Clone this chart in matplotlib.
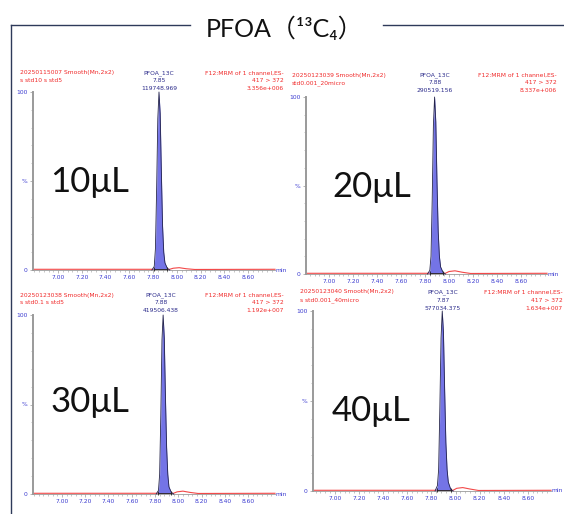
import matplotlib
matplotlib.use("Agg")
import matplotlib.pyplot as plt
from matplotlib.lines import Line2D
from matplotlib.ticker import MultipleLocator

W, H = 564, 514

# ---- data (time in min, intensity in %) ----
labels = ["10μL", "20μL", "30μL", "40μL"]
file_ids = ["20250115007 Smooth(Mn,2x2)", "20250123039 Smooth(Mn,2x2)",
            "20250123038 Smooth(Mn,2x2)", "20250123040 Smooth(Mn,2x2)"]
sample_ids = ["s std10 s std5", "std0.001_20micro", "s std0.1 s std5", "s std0.001_40micro"]
rt_labels = ["7.85", "7.88", "7.88", "7.87"]
areas = ["119748.969", "290519.156", "419506.438", "577034.375"]
max_counts = ["3.356e+006", "8.337e+006", "1.192e+007", "1.634e+007"]

tl_t = [7.79, 7.81, 7.82, 7.83, 7.84, 7.85, 7.86, 7.87, 7.88, 7.89, 7.90, 7.92, 7.94]
tl_i = [0, 2, 12, 45, 85, 100, 88, 55, 25, 10, 4, 1, 0]
tr_t = [7.82, 7.84, 7.85, 7.86, 7.87, 7.88, 7.89, 7.90, 7.91, 7.92, 7.93, 7.95, 7.97]
tr_i = [0, 2, 10, 42, 84, 100, 86, 52, 24, 10, 4, 1, 0]
bl_t = [7.81, 7.83, 7.84, 7.85, 7.86, 7.87, 7.88, 7.89, 7.90, 7.91, 7.92, 7.94, 7.96]
bl_i = [0, 2, 11, 44, 86, 100, 87, 54, 26, 11, 4, 1, 0]
br_t = [7.83, 7.85, 7.86, 7.87, 7.88, 7.89, 7.90, 7.91, 7.92, 7.93, 7.94, 7.96, 7.98]
br_i = [0, 3, 12, 46, 85, 100, 88, 56, 27, 12, 5, 1, 0]

# small hump of the raw trace after the peak
tail_t = [[7.97, 8.02, 8.08, 8.15], [8.00, 8.05, 8.11, 8.18],
          [7.99, 8.04, 8.10, 8.17], [8.01, 8.06, 8.12, 8.19]]
tail_i = [[1.0, 1.3, 0.7, 0.3], [1.4, 1.8, 1.0, 0.3],
          [1.2, 1.6, 0.9, 0.3], [1.5, 1.9, 1.1, 0.3]]

peaks_t = [tl_t, tr_t, bl_t, br_t]
peaks_i = [tl_i, tr_i, bl_i, br_i]

# ---- layout (pixels) ----
# x0, x1, y_top(100%), y_zero, xlim
panels = [
    (33, 275, 92, 270, (6.789, 8.827)),
    (306, 547, 97, 274, (6.808, 8.817)),
    (33, 275, 315, 494, (6.751, 8.832)),
    (313, 551, 311, 491, (6.818, 8.792)),
]
header_y = [(73, 80, 88), (75, 83, 91), (295, 303, 310), (292, 300, 308)]
header_x = [(20, 159, 284), (292, 435, 557), (20, 161, 284), (300, 443, 563)]
label_pos = [(50, 192), (332, 197), (50, 412), (332, 421)]

RED = "#F02828"
NAVY = "#2A2A8A"
TICKBLUE = "#3A3AD0"
FILL = "#7474E6"
GRAY = "#9A9A9A"


def fx(x):
    return x / W


def fy(y):
    return 1 - y / H


fig = plt.figure(figsize=(W / 100, H / 100), dpi=100)
fig.patch.set_facecolor("white")

# outer frame with title breaking the top border
frame_col = "#2E3A5A"
fig.add_artist(Line2D([fx(11), fx(11)], [fy(25), fy(520)], color=frame_col, lw=1.0))
fig.add_artist(Line2D([fx(11), fx(190)], [fy(25), fy(25)], color=frame_col, lw=1.0))
fig.add_artist(Line2D([fx(383), fx(570)], [fy(25), fy(25)], color=frame_col, lw=1.0))
fig.text(fx(285), fy(37), "PFOA（¹³C₄）", ha="center", va="baseline", fontsize=18,
         family=["Lato", "Noto Sans CJK SC", "DejaVu Sans"], color="#111111")

small = dict(fontsize=4.3, family="DejaVu Sans")

for k, (x0, x1, ytop, yzero, xlim) in enumerate(panels):
    ax = fig.add_axes([fx(x0), fy(yzero), (x1 - x0) / W, (yzero - ytop) / H])
    ax.set_xlim(*xlim)
    ax.set_ylim(0, 100)
    ax.patch.set_alpha(0)

    t = peaks_t[k]
    i = peaks_i[k]
    # raw trace (red): flat baseline plus the small tail after the peak
    trace_t = [xlim[0], t[0], t[-1]] + tail_t[k] + [xlim[1]]
    trace_i = [0.4, 0.4, 0.4] + tail_i[k] + [0.4]
    ax.plot(trace_t, trace_i, color=RED, lw=0.8, alpha=0.85, clip_on=False, zorder=2)
    # integrated peak
    ax.fill_between(t, 0.5, i, color=FILL, lw=0, zorder=3)
    ax.plot(t, i, color="#23234A", lw=0.6, zorder=4, clip_on=False)
    ax.plot([t[1], t[-2]], [0.8, 0.8], color="#222222", lw=0.6, zorder=4,
            marker="|", markersize=3, markeredgewidth=0.6, clip_on=False)

    for s in ("top", "right"):
        ax.spines[s].set_visible(False)
    ax.spines["left"].set_color(GRAY)
    ax.spines["left"].set_linewidth(1.4)
    ax.spines["bottom"].set_color(GRAY)
    ax.spines["bottom"].set_linewidth(0.6)

    ax.xaxis.set_minor_locator(MultipleLocator(0.04))
    ax.set_xticks([7.0, 7.2, 7.4, 7.6, 7.8, 8.0, 8.2, 8.4, 8.6])
    ax.set_xticklabels(["7.00", "7.20", "7.40", "7.60", "7.80", "8.00", "8.20", "8.40", "8.60"])
    ax.set_yticks([0, 50, 100])
    ax.set_yticklabels(["0", "%", "100"])
    ax.yaxis.set_minor_locator(MultipleLocator(10))
    ax.tick_params(axis="both", which="major", length=2.2, width=0.5, color=GRAY,
                   labelsize=4.3, labelcolor=TICKBLUE, pad=1.5)
    ax.tick_params(axis="both", which="minor", length=1.2, width=0.4, color=GRAY)
    ax.text(1.004, 0, "min", transform=ax.transAxes, ha="left", va="center",
            color=TICKBLUE, **small)

    # header texts
    hx = header_x[k]
    hy = header_y[k]
    fig.text(fx(hx[0]), fy(hy[0]), file_ids[k], color=RED, ha="left", va="center", **small)
    fig.text(fx(hx[0]), fy(hy[1]), sample_ids[k], color=RED, ha="left", va="center", **small)
    for line, yy in zip(["PFOA_13C", rt_labels[k], areas[k]], hy):
        fig.text(fx(hx[1]), fy(yy), line, color=NAVY, ha="center", va="center", **small)
    for line, yy in zip(["F12:MRM of 1 channel,ES-", "417 > 372", max_counts[k]], hy):
        fig.text(fx(hx[2]), fy(yy), line, color=RED, ha="right", va="center", **small)

    lx, ly = label_pos[k]
    fig.text(fx(lx), fy(ly), labels[k], ha="left", va="baseline", fontsize=25,
             family=["Lato", "DejaVu Sans"], color="#111111")

fig.savefig("out.png", dpi=100, facecolor="white")
